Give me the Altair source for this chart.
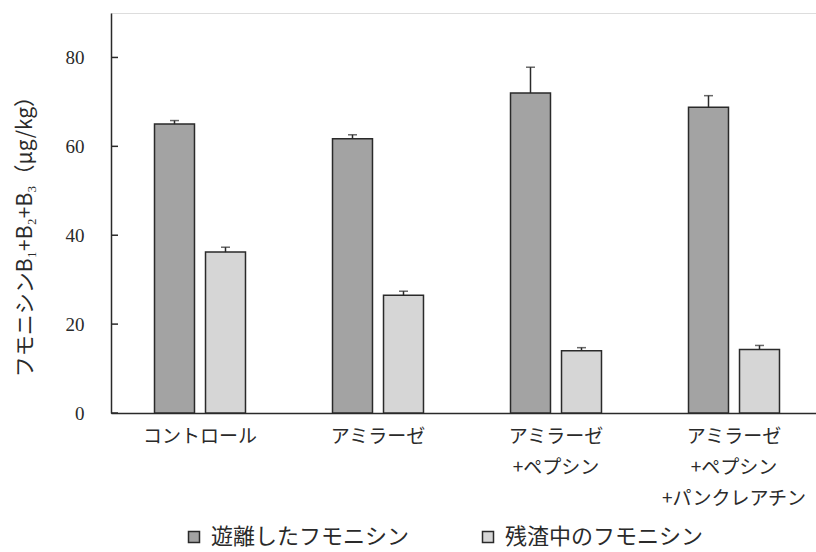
import altair as alt
import pandas as pd

categories = ["コントロール", "アミラーゼ", "アミラーゼ|+ペプシン", "アミラーゼ|+ペプシン|+パンクレアチン"]
series = ["遊離したフモニシン", "残渣中のフモニシン"]
free_vals = [65.0, 61.7, 72.0, 68.8]
free_err = [0.8, 0.9, 5.8, 2.6]
res_vals = [36.2, 26.5, 14.0, 14.3]
res_err = [1.1, 0.9, 0.7, 0.9]
y_ticks = [0, 20, 40, 60, 80]

rows = []
for i, c in enumerate(categories):
    rows.append({"cat": c, "s": series[0], "v": free_vals[i], "hi": free_vals[i] + free_err[i]})
    rows.append({"cat": c, "s": series[1], "v": res_vals[i], "hi": res_vals[i] + res_err[i]})
df = pd.DataFrame(rows)
tick_df = pd.DataFrame({"t": y_ticks})

JP = "Noto Sans CJK JP"
SERIF = "Liberation Serif"
INK = "#2a2a2a"

x_enc = alt.X(
    "cat:N", sort=categories, title=None,
    scale=alt.Scale(range=[0, 712], paddingInner=0, paddingOuter=0),
    axis=alt.Axis(labelExpr="split(datum.label, '|')", labelAngle=0, ticks=False,
                  labelFont=JP, labelFontSize=19, labelLineHeight=31, labelPadding=14,
                  labelColor=INK, domainColor=INK, domainWidth=1.5, labelLimit=300),
)
xo_enc = alt.XOffset("s:N", sort=series, scale=alt.Scale(paddingInner=0.216, paddingOuter=0.853))
y_scale = alt.Scale(domain=[0, 90], nice=False)

bars = alt.Chart(df).mark_bar(stroke=INK, strokeWidth=1.5).encode(
    x=x_enc,
    xOffset=xo_enc,
    y=alt.Y("v:Q", scale=y_scale,
            title="フモニシンB₁+B₂+B₃（μg/kg）",
            axis=alt.Axis(values=y_ticks, ticks=False, grid=False, labelFont=SERIF,
                          labelFontSize=19, labelPadding=27, labelColor=INK,
                          domainColor=INK, domainWidth=1.5,
                          titleFont=JP, titleFontSize=21, titleFontWeight="normal",
                          titleColor=INK, titleX=-76, titleY=218)),
    fill=alt.Fill("s:N", sort=series,
                  scale=alt.Scale(domain=series, range=["#a3a3a3", "#d6d6d6"]),
                  legend=alt.Legend(title=None, orient="none", legendX=72, legendY=513,
                                    direction="horizontal", columns=2, columnPadding=67,
                                    symbolType="square", symbolSize=121,
                                    symbolStrokeColor=INK, symbolStrokeWidth=1.5,
                                    labelFont=JP, labelFontSize=22, labelColor=INK,
                                    labelOffset=6, labelLimit=400, padding=0)),
)

err_line = alt.Chart(df).mark_rule(color=INK, strokeWidth=1.5).encode(
    x=alt.X("cat:N", sort=categories), xOffset=alt.XOffset("s:N", sort=series),
    y=alt.Y("v:Q", scale=y_scale), y2="hi:Q",
)
err_cap = alt.Chart(df).mark_tick(color=INK, thickness=1.5, size=9, orient="horizontal").encode(
    x=alt.X("cat:N", sort=categories), xOffset=alt.XOffset("s:N", sort=series),
    y=alt.Y("hi:Q", scale=y_scale),
)
yticks = alt.Chart(tick_df).mark_rule(color=INK, strokeWidth=1.5).encode(
    y=alt.Y("t:Q", scale=y_scale), x=alt.value(0), x2=alt.value(7),
)

chart = alt.layer(bars, err_line, err_cap, yticks).properties(
    width=705, height=400,
    padding={"left": 111, "top": 13, "right": 0, "bottom": 139},
    autosize="none",
).configure_view(stroke=None).configure(background="white")

chart.save("out.html", embed_options={"renderer": "svg", "actions": False})
